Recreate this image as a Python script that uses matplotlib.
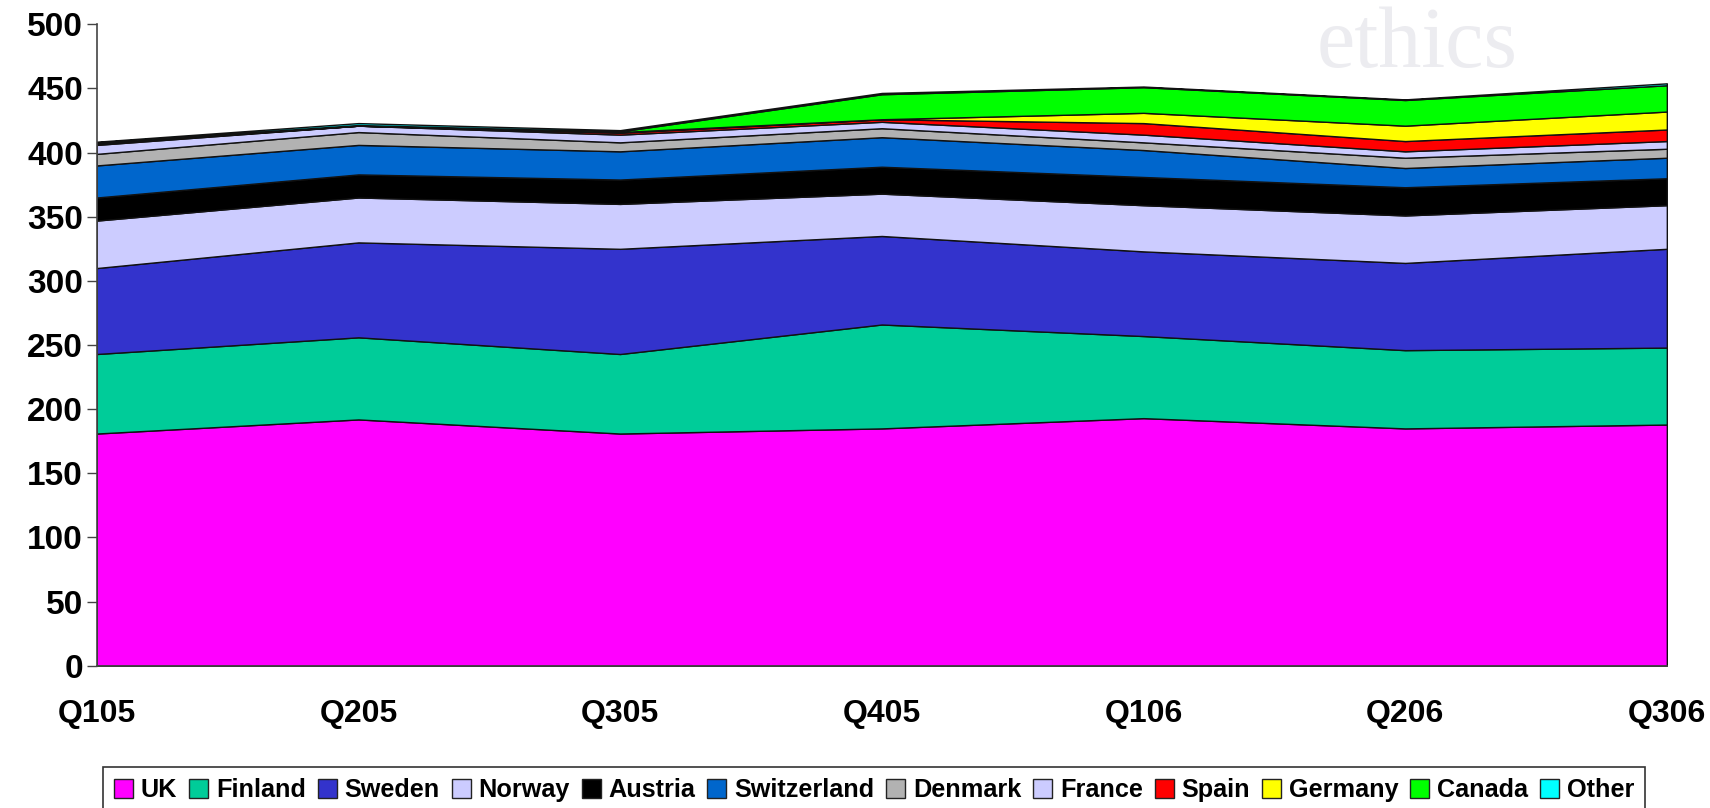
import matplotlib
matplotlib.use("Agg")
import matplotlib.pyplot as plt
from matplotlib.patches import Patch

quarters = ["Q105", "Q205", "Q305", "Q405", "Q106", "Q206", "Q306"]

uk          = [181, 192, 181, 185, 193, 185, 188]
finland     = [62, 64, 62, 81, 64, 61, 60]
sweden      = [67, 74, 82, 69, 66, 68, 77]
norway      = [37, 35, 35, 33, 36, 37, 34]
austria     = [18, 18, 19, 21, 22, 22, 21]
switzerland = [25, 23, 22, 23, 21, 15, 16]
denmark     = [9, 10, 7, 7, 6, 8, 7]
france      = [7, 5, 6, 5, 6, 5, 6]
spain       = [1, 0, 1.5, 2, 9, 8, 9]
germany     = [0.5, 0, 0.5, 0, 8, 12, 14]
canada      = [0.5, 0.5, 0.5, 19.5, 20, 20, 20.5]
other       = [0.5, 1.5, 1, 1, 0.5, 0.5, 1.5]

series = [uk, finland, sweden, norway, austria, switzerland,
          denmark, france, spain, germany, canada, other]
names = ["UK", "Finland", "Sweden", "Norway", "Austria", "Switzerland",
         "Denmark", "France", "Spain", "Germany", "Canada", "Other"]
colors = ["#FF00FF", "#00CC99", "#3333CC", "#CCCCFF", "#000000", "#0066CC",
          "#B2B2B2", "#CCCCFF", "#FF0000", "#FFFF00", "#00FF00", "#00FFFF"]

plt.rcParams["font.family"] = ["Liberation Sans", "DejaVu Sans"]
plt.rcParams["font.weight"] = "bold"

fig = plt.figure(figsize=(17.1, 8.08), dpi=100)
ax = fig.add_axes([0.05655, 0.1761, 0.9182, 0.7938])

x = list(range(len(quarters)))
ax.stackplot(x, *series, colors=colors, edgecolor="#111111", linewidth=1.0)

ax.set_xlim(0, len(quarters) - 1)
ax.set_ylim(0, 500)
ax.set_yticks(range(0, 501, 50))
ax.set_xticks(x)
ax.set_xticklabels(quarters)

ax.tick_params(axis="y", direction="out", length=7, width=1.0, color="#444444",
               labelsize=24, pad=3)
ax.tick_params(axis="x", length=0, labelsize=23, pad=24)
for lab in ax.get_xticklabels() + ax.get_yticklabels():
    lab.set_fontweight("bold")

for side in ["top", "right"]:
    ax.spines[side].set_visible(False)
ax.spines["left"].set_color("#444444")
ax.spines["left"].set_linewidth(1.2)
ax.spines["bottom"].set_color("#444444")
ax.spines["bottom"].set_linewidth(1.2)

# faint watermark text in the upper right
fig.text(0.829, 0.917, "ethics", family="Liberation Serif", fontweight="normal",
         fontsize=62, color="#ececf0", ha="center", va="baseline", zorder=0)

handles = [Patch(facecolor=c, edgecolor="#222222", linewidth=1.0) for c in colors]
leg = fig.legend(handles, names, loc="upper left",
                 bbox_to_anchor=(0.0602, 0.0507), ncol=len(names),
                 frameon=True, fancybox=False, framealpha=1,
                 edgecolor="#333333", fontsize=18.2,
                 handlelength=0.75, handleheight=0.75, handletextpad=0.3,
                 columnspacing=0.48, borderpad=0.45, borderaxespad=0)
leg.get_frame().set_linewidth(1.2)
for t in leg.get_texts():
    t.set_fontweight("bold")

fig.savefig("out.png", dpi=100)
